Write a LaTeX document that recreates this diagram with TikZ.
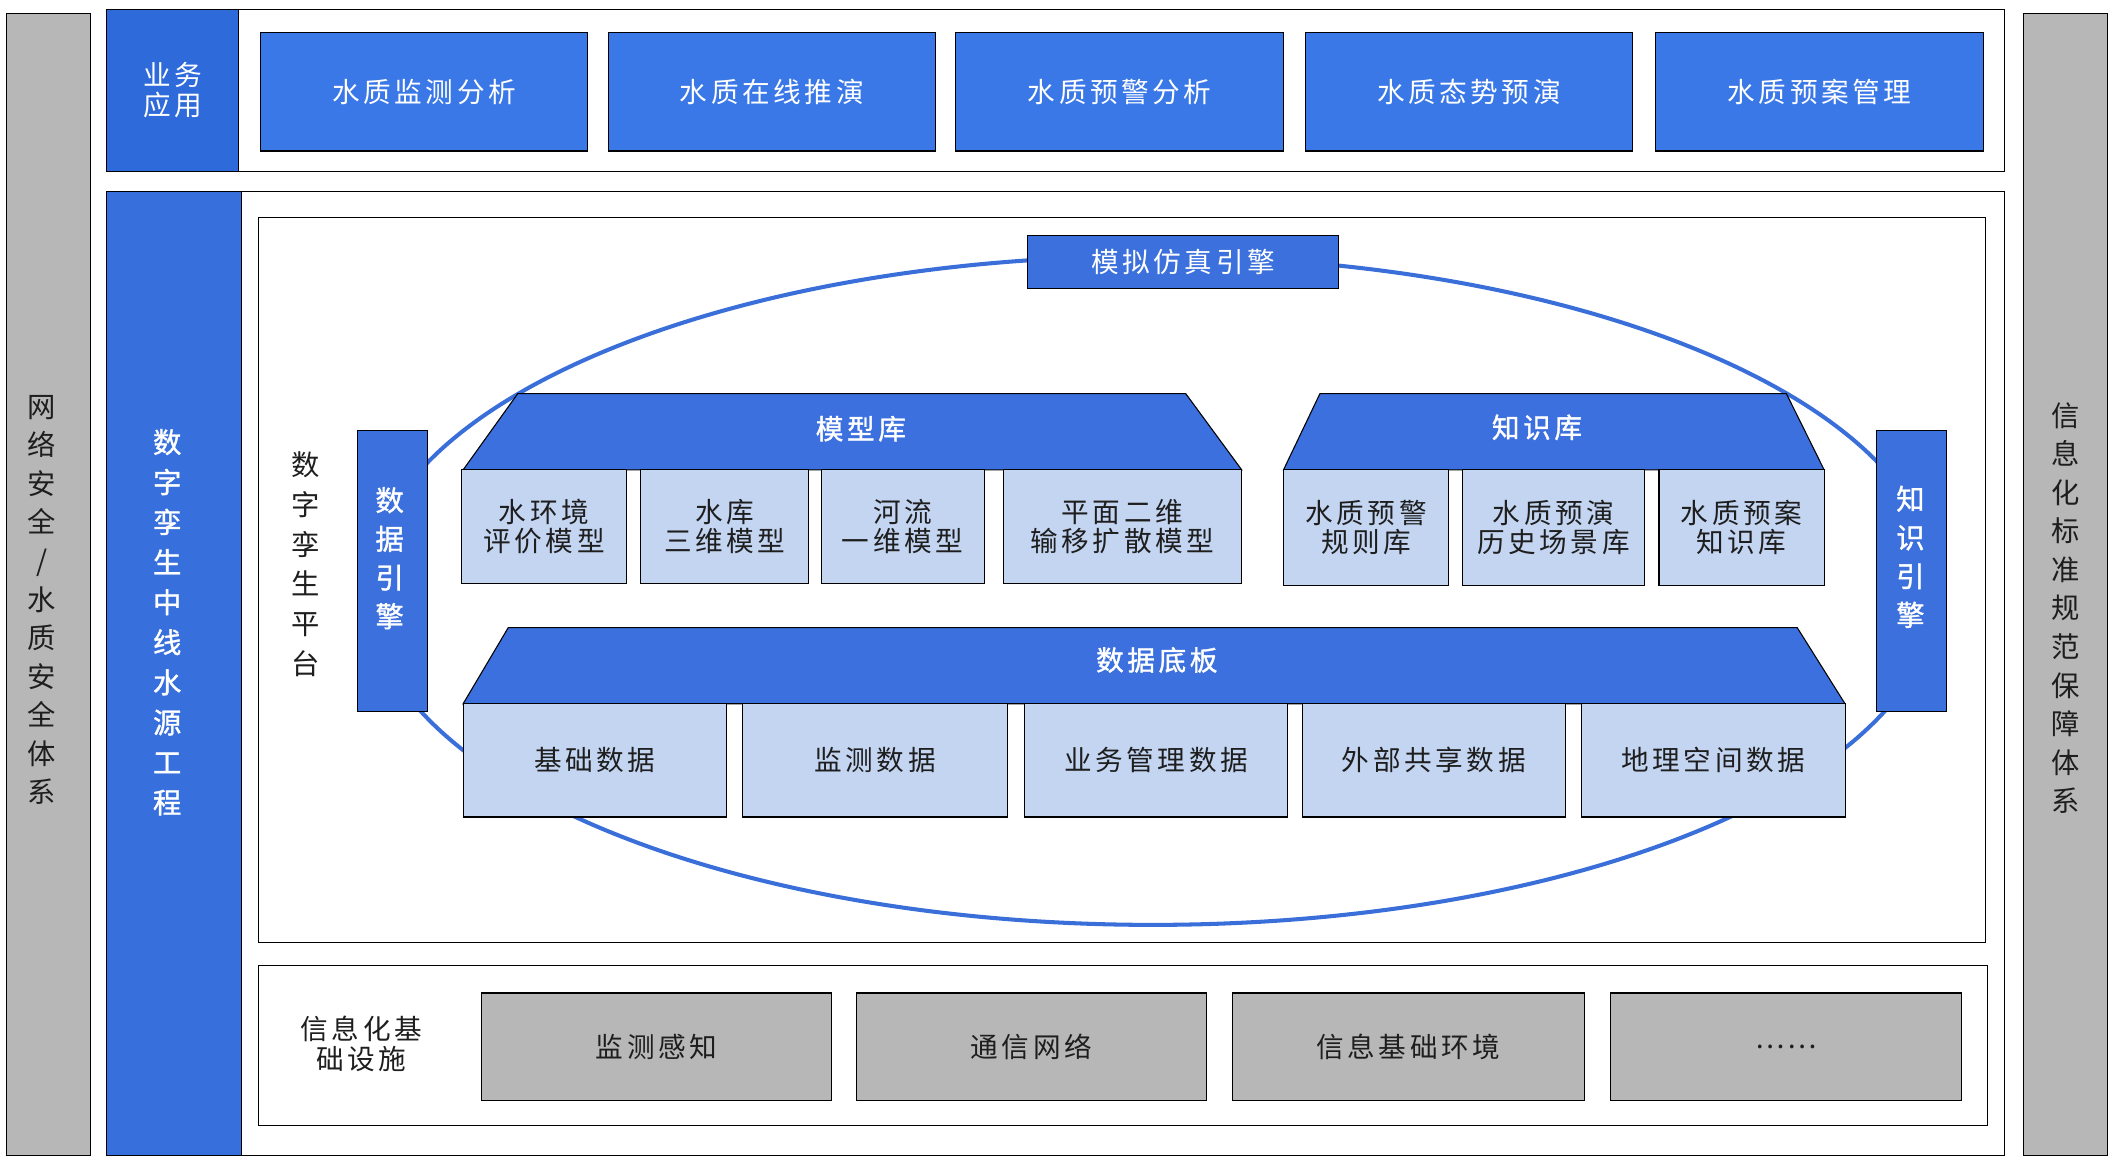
\documentclass[tikz,border=0pt]{standalone}
\usepackage{fontspec}
\setmainfont{Noto Sans CJK SC}[LetterSpace=13]
\newfontfamily\medfont{Noto Sans CJK SC}[LetterSpace=13, FakeBold=1.3]
\definecolor{hdrblue}{HTML}{2F6ADB}
\definecolor{appblue}{HTML}{3A78E8}
\definecolor{colblue}{HTML}{376FDD}
\definecolor{engblue}{HTML}{3B70DD}
\definecolor{trapblue}{HTML}{3C70DE}
\definecolor{lightblue}{HTML}{C4D5F2}
\definecolor{sidegray}{HTML}{B7B7B7}
\definecolor{ellblue}{HTML}{3A6FDA}
\definecolor{inktext}{HTML}{1E1E1E}
\newcommand\fs[2]{\fontsize{#1}{#2}\selectfont}
\newcommand\rbox[6]{\node[#6, minimum width={(#4)-(#2)}, minimum height={(#5)-(#3)}] (#1) at ({((#2)+(#4))/2},{((#3)+(#5))/2})}
\tikzset{
 box/.style={draw=black, line width=0.8pt, inner sep=0pt, outer sep=0pt, align=center},
 frame/.style={box, fill=white},
 hdr/.style={box, fill=hdrblue, text=white, font=\fs{20.5}{22}},
 col/.style={box, fill=colblue},
 appbox/.style={box, fill=appblue, text=white, font=\fs{20.5}{22}},
 engine/.style={box, fill=engblue},
 lbox/.style={box, fill=lightblue, text=inktext, font=\fs{20.5}{21.5}},
 gbox/.style={box, fill=sidegray, text=inktext, font=\fs{20.5}{22}},
 side/.style={box, fill=sidegray},
 vtext/.style={align=center, inner sep=0pt, font=\fs{21}{28.6}},
 trap/.style={draw=black, line width=0.8pt, fill=trapblue, line join=miter},
 traplabel/.style={text=white, inner sep=0pt, font=\medfont\fs{20.5}{22}},
 ring/.style={draw=ellblue, line width=3pt},
}
\begin{document}
\begin{tikzpicture}[x=1pt,y=-1pt]
\useasboundingbox (0,0) rectangle (1568,861);
% side bars
\rbox{lside}{5}{10}{67}{857}{side}{};
\rbox{rside}{1501}{10}{1563}{857}{side}{};
\node[vtext, text=inktext] (ltext) at (31,445) {网\\络\\安\\全\\/\\水\\质\\安\\全\\体\\系};
\node[vtext, text=inktext] (rtext) at (1532,451) {信\\息\\化\\标\\准\\规\\范\\保\\障\\体\\系};
% application layer
\rbox{appframe}{79}{7}{1487}{127}{frame}{};
\rbox{apphdr}{79}{7}{177}{127}{hdr}{业务\\应用};
\rbox{app1}{193}{24}{436}{112}{appbox}{水质监测分析};
\rbox{app2}{451}{24}{694}{112}{appbox}{水质在线推演};
\rbox{app3}{709}{24}{952}{112}{appbox}{水质预警分析};
\rbox{app4}{968}{24}{1211}{112}{appbox}{水质态势预演};
\rbox{app5}{1228}{24}{1471}{112}{appbox}{水质预案管理};
% main layer
\rbox{mainframe}{79}{142}{1487}{857}{frame}{};
\rbox{maincol}{79}{142}{179}{857}{col}{};
\node[vtext, text=white, font=\medfont\fs{21}{29.7}] (maintext) at (124,461.5) {数\\字\\孪\\生\\中\\线\\水\\源\\工\\程};
\rbox{platform}{192}{161}{1473}{699}{frame}{};
\rbox{infra}{192}{716}{1474}{835}{frame}{};
\draw[ring] (855,438) ellipse [x radius=582, y radius=248];
\rbox{sim}{762}{175}{993}{214}{engine, text=white, font=\fs{20.5}{22}}{模拟仿真引擎};
\node[vtext, text=inktext, font=\fs{21}{29.4}] (ptext) at (227,418.5) {数\\字\\孪\\生\\平\\台};
\rbox{deng}{265}{319}{317}{528}{engine}{};
\node[vtext, text=white, font=\medfont\fs{21}{28.7}] (dengtext) at (289,414) {数\\据\\引\\擎};
\rbox{keng}{1392}{319}{1444}{528}{engine}{};
\node[vtext, text=white, font=\medfont\fs{21}{28.7}] (kengtext) at (1417,413) {知\\识\\引\\擎};
% model library
\filldraw[trap] (343.5,348.5) -- (384,292) -- (879.5,292) -- (921,348.5) -- cycle;
\node[traplabel] (mxk) at (638.5,318) {模型库};
\rbox{m1}{342.5}{348.5}{464.5}{433}{lbox}{水环境\\评价模型};
\rbox{m2}{475}{348.5}{600}{433}{lbox}{水库\\三维模型};
\rbox{m3}{609}{348.5}{730}{433}{lbox}{河流\\一维模型};
\rbox{m4}{744}{348.5}{921}{433}{lbox}{平面二维\\输移扩散模型};
% knowledge library
\filldraw[trap] (952,348.5) -- (979,292) -- (1325,292) -- (1353,348.5) -- cycle;
\node[traplabel] (zsk) at (1140,317) {知识库};
\rbox{k1}{952}{348.5}{1074.5}{434}{lbox}{水质预警\\规则库};
\rbox{k2}{1084.5}{348.5}{1220}{434}{lbox}{水质预演\\历史场景库};
\rbox{k3}{1230.5}{348.5}{1353}{434}{lbox}{水质预案\\知识库};
% data board
\filldraw[trap] (343.5,522) -- (377,465.5) -- (1333,465.5) -- (1368.5,522) -- cycle;
\node[traplabel] (sjdb) at (858,489.5) {数据底板};
\rbox{d1}{343.5}{522}{539}{606}{lbox}{基础数据};
\rbox{d2}{551}{522}{747}{606}{lbox}{监测数据};
\rbox{d3}{760}{522}{955}{606}{lbox}{业务管理数据};
\rbox{d4}{966}{522}{1161}{606}{lbox}{外部共享数据};
\rbox{d5}{1173}{522}{1368.5}{606}{lbox}{地理空间数据};
% infrastructure
\node[font=\fs{20.5}{22}, align=center, text=inktext, inner sep=0pt] (itext) at (268,774.5) {信息化基\\础设施};
\rbox{i1}{357}{736.5}{617}{816.5}{gbox}{监测感知};
\rbox{i2}{635}{736.5}{895}{816.5}{gbox}{通信网络};
\rbox{i3}{914}{736.5}{1175}{816.5}{gbox}{信息基础环境};
\rbox{i4}{1194.5}{736.5}{1455}{816.5}{gbox}{……};
\end{tikzpicture}
\end{document}
